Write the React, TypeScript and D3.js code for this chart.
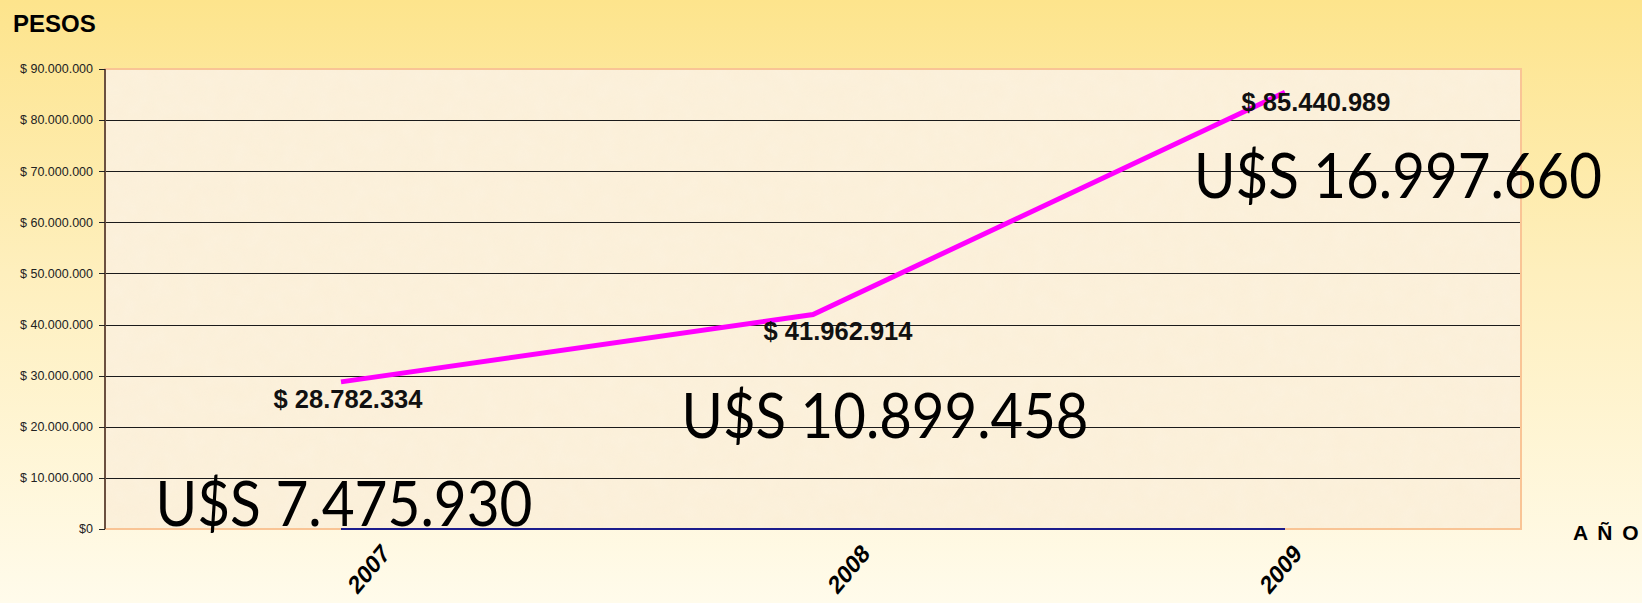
import React from "react";
import * as d3 from "d3";

// ---- data ----
const categories = ["2007", "2008", "2009"];
const pesos = [28782334, 41962914, 85440989];
const pesoLabels = ["$ 28.782.334", "$ 41.962.914", "$ 85.440.989"];
const usdLabels = ["U$S 7.475.930", "U$S 10.899.458", "U$S 16.997.660"];
const yTicks = [0, 10000000, 20000000, 30000000, 40000000, 50000000, 60000000, 70000000, 80000000, 90000000];
const yTickLabels = ["$0", "$ 10.000.000", "$ 20.000.000", "$ 30.000.000", "$ 40.000.000", "$ 50.000.000", "$ 60.000.000", "$ 70.000.000", "$ 80.000.000", "$ 90.000.000"];

// ---- layout ----
const W = 1642;
const H = 603;
const plot = { left: 105, right: 1521, top: 69, bottom: 529 };
const labelNudge = [[7, 26], [25, 25], [31, 19]];
const catNudge = [50, 58, 18];
const usdPlacement = [
  { dx: 3, v: 500000, len: 377 },
  { dx: 72, v: 17800000, len: 407 },
  { dx: 113, v: 64800000, len: 408 },
];

export default function App() {
  const x = d3.scalePoint<string>().domain(categories).range([plot.left, plot.right]).padding(0.5);
  const y = d3.scaleLinear().domain([0, 90000000]).range([plot.bottom, plot.top]);
  const line = d3
    .line<number>()
    .x((_, i) => x(categories[i]) as number)
    .y((d) => y(d));
  const firstX = x(categories[0]) as number;
  const lastX = x(categories[categories.length - 1]) as number;

  return (
    <div style={{ position: "absolute", left: 0, top: 0 }}>
      <svg width={W} height={H} style={{ display: "block" }} fontFamily="'Liberation Sans', Arial, sans-serif">
        <defs>
          <linearGradient id="bg" x1="0" y1="0" x2="0" y2="1">
            <stop offset="0%" stopColor="#fde48c" />
            <stop offset="45%" stopColor="#feefbd" />
            <stop offset="100%" stopColor="#fffbeb" />
          </linearGradient>
          <filter id="tex" x="0" y="0" width="100%" height="100%">
            <feTurbulence type="fractalNoise" baseFrequency="0.06" numOctaves="2" seed="3" result="n" />
            <feColorMatrix in="n" type="matrix" values="0 0 0 0 0.98  0 0 0 0 0.92  0 0 0 0 0.80  0 0 0 0.5 0" result="c" />
            <feComposite in="c" in2="SourceGraphic" operator="in" />
          </filter>
        </defs>
        <rect x={0} y={0} width={W} height={H} fill="url(#bg)" />
        {/* plot area */}
        <rect x={plot.left} y={plot.top} width={plot.right - plot.left} height={plot.bottom - plot.top} fill="#fbefd8" />
        <rect x={plot.left} y={plot.top} width={plot.right - plot.left} height={plot.bottom - plot.top} fill="#fbefd8" filter="url(#tex)" opacity={0.6} />
        {/* gridlines */}
        {yTicks.slice(1, -1).map((t) => (
          <line key={t} x1={plot.left} x2={plot.right} y1={Math.round(y(t)) + 0.5} y2={Math.round(y(t)) + 0.5} stroke="#1a1a1a" strokeWidth={1} />
        ))}
        {/* border */}
        <rect x={plot.left} y={plot.top} width={plot.right - plot.left} height={plot.bottom - plot.top} fill="none" stroke="#f9c495" strokeWidth={2} />
        {/* x axis segment */}
        <line x1={firstX} x2={lastX} y1={plot.bottom} y2={plot.bottom} stroke="#1c1c8c" strokeWidth={2} />
        {/* y axis */}
        <line x1={plot.left} x2={plot.left} y1={plot.top} y2={plot.bottom} stroke="#6b5040" strokeWidth={2} />
        {yTicks.map((t, i) => (
          <g key={t}>
            <line x1={99} x2={plot.left} y1={Math.round(y(t)) + 0.5} y2={Math.round(y(t)) + 0.5} stroke="#222" strokeWidth={1} />
            <text x={93} y={y(t)} dy="0.35em" textAnchor="end" fontSize={12.5} fill="#222">
              {yTickLabels[i]}
            </text>
          </g>
        ))}
        {/* line */}
        <path d={line(pesos) || ""} fill="none" stroke="#ff00ff" strokeWidth={5} strokeLinejoin="miter" />
        {/* peso labels */}
        {pesos.map((v, i) => (
          <text key={i} x={(x(categories[i]) as number) + labelNudge[i][0]} y={y(v) + labelNudge[i][1]} textAnchor="middle" fontSize={25.5} fontWeight="bold" fill="#111">
            {pesoLabels[i]}
          </text>
        ))}
        {/* usd labels */}
        {usdLabels.map((s, i) => {
          const cx = (x(categories[i]) as number) + usdPlacement[i].dx;
          return (
            <text key={s} x={cx - usdPlacement[i].len / 2} y={y(usdPlacement[i].v)} fontSize={62} fontFamily="Lato, 'Open Sans', sans-serif" fill="#000" textLength={usdPlacement[i].len} lengthAdjust="spacingAndGlyphs">
              {s}
            </text>
          );
        })}
        {/* category labels */}
        {categories.map((c, i) => (
          <text key={c} transform={`translate(${(x(c) as number) + catNudge[i]},555) scale(1,1.2) rotate(-45)`} textAnchor="end" fontSize={21.5} fontWeight="bold" fill="#000">
            {c}
          </text>
        ))}
        {/* axis titles */}
        <text x={13} y={32} fontSize={24} fontWeight="bold" fill="#000">PESOS</text>
        <text x={1573} y={540} fontSize={21} fontWeight="bold" letterSpacing={2} fill="#000">A Ñ O</text>
      </svg>
    </div>
  );
}
